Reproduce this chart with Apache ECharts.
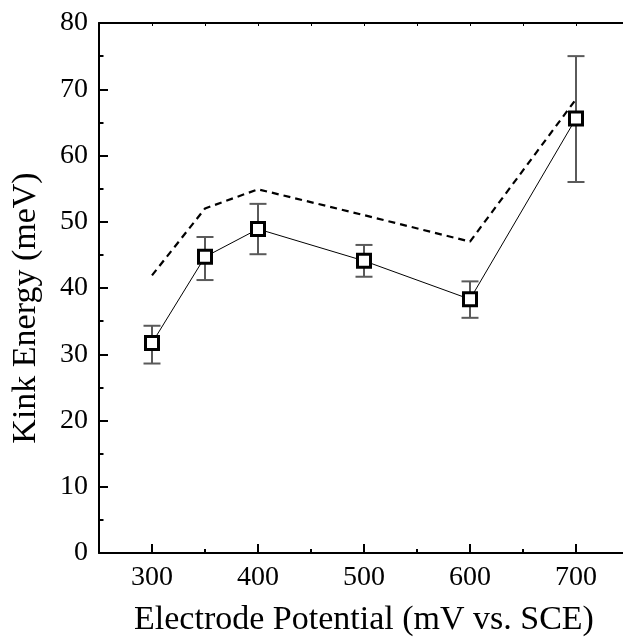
<!DOCTYPE html>
<html lang="en">
<head>
    <meta charset="UTF-8">
    <title>kink_energy</title>
    <style>
        html, body { margin: 0; padding: 0; overflow: hidden; background: #fff; }
    </style>
</head>
<body>
<div id="chart" style="height:644px;width:640px;"></div>
<script type="text/javascript" src="https://cdn.jsdelivr.net/npm/echarts@6/dist/echarts.min.js"></script>
<script type="text/javascript">
    // 数据
    const potentials = [300, 350, 400, 500, 600, 700];
    const kinkEnergy = [31.7, 44.7, 48.9, 44.1, 38.3, 65.6];
    const errLower = [28.6, 41.2, 45.1, 41.7, 35.5, 56.0];
    const errUpper = [34.3, 47.7, 52.7, 46.5, 41.0, 75.0];
    const dashedEnergy = [41.9, 52.0, 54.9, 51.0, 47.0, 68.5];
    const majorTicksX = [300, 400, 500, 600, 700];
    const minorTicksX = [250, 350, 450, 550, 650, 750];
    const allTicksX = [250, 300, 350, 400, 450, 500, 550, 600, 650, 700, 750];

    const font = 'Liberation Serif';
    let myChart = echarts.init(document.getElementById('chart'));

    function pairs(xs, ys) {
        return xs.map(function (x, i) { return [x, ys[i]]; });
    }

    let option = {
        animation: false,
        textStyle: {fontFamily: font},
        grid: {left: 99, right: 11, top: 23, bottom: 91},
        xAxis: [
            {
                type: 'value', min: 250, max: 750, position: 'bottom',
                name: 'Electrode Potential (mV vs. SCE)',
                nameLocation: 'middle', nameGap: 50,
                nameTextStyle: {fontFamily: font, fontSize: 34, color: '#000'},
                axisLine: {show: true, lineStyle: {color: '#000', width: 2}},
                axisTick: {show: true, inside: true, length: 9, customValues: majorTicksX,
                    lineStyle: {color: '#000', width: 2}},
                axisLabel: {customValues: majorTicksX, fontFamily: font, fontSize: 28, color: '#000', margin: 11},
                splitLine: {show: false}
            },
            {
                // 次刻度
                type: 'value', min: 250, max: 750, position: 'bottom',
                axisLine: {show: false},
                axisTick: {show: true, inside: true, length: 4, customValues: minorTicksX,
                    lineStyle: {color: '#000', width: 2}},
                axisLabel: {show: false},
                splitLine: {show: false}
            },
            {
                // 上边框
                type: 'value', min: 250, max: 750, position: 'top',
                axisLine: {show: true, lineStyle: {color: '#000', width: 2}},
                axisTick: {show: true, inside: true, length: 3, customValues: allTicksX,
                    lineStyle: {color: '#000', width: 1}},
                axisLabel: {show: false},
                splitLine: {show: false}
            }
        ],
        yAxis: {
            type: 'value', min: 0, max: 80, interval: 10,
            name: 'Kink Energy (meV)',
            nameLocation: 'middle', nameGap: 56,
            nameTextStyle: {fontFamily: font, fontSize: 34, color: '#000', padding: [0, 40, 0, 0]},
            axisLine: {show: true, lineStyle: {color: '#000', width: 2}},
            axisTick: {show: true, inside: true, length: 9, lineStyle: {color: '#000', width: 2}},
            minorTick: {show: true, splitNumber: 2, length: 4.5, lineStyle: {color: '#000', width: 2}},
            axisLabel: {fontFamily: font, fontSize: 28, color: '#000', margin: 11},
            splitLine: {show: false},
            minorSplitLine: {show: false}
        },
        series: [
            {
                // 误差棒
                type: 'custom',
                z: 1,
                data: potentials.map(function (x, i) { return [x, errLower[i], errUpper[i]]; }),
                renderItem: function (params, api) {
                    let lo = api.coord([api.value(0), api.value(1)]);
                    let hi = api.coord([api.value(0), api.value(2)]);
                    let cap = 8.5;
                    let style = {stroke: '#5a5a5a', lineWidth: 2};
                    return {
                        type: 'group',
                        children: [
                            {type: 'line', shape: {x1: lo[0], y1: lo[1], x2: hi[0], y2: hi[1]}, style: style},
                            {type: 'line', shape: {x1: lo[0] - cap, y1: lo[1], x2: lo[0] + cap, y2: lo[1]}, style: style},
                            {type: 'line', shape: {x1: hi[0] - cap, y1: hi[1], x2: hi[0] + cap, y2: hi[1]}, style: style}
                        ]
                    };
                }
            },
            {
                type: 'line',
                z: 2,
                data: pairs(potentials, dashedEnergy),
                showSymbol: false,
                lineStyle: {color: '#000', width: 2.2, type: [7, 5]}
            },
            {
                type: 'line',
                z: 3,
                data: pairs(potentials, kinkEnergy),
                symbol: 'rect',
                symbolSize: 13,
                lineStyle: {color: '#000', width: 1},
                itemStyle: {color: '#fff', borderColor: '#000', borderWidth: 3}
            }
        ]
    };

    myChart.setOption(option);
</script>
</body>
</html>
